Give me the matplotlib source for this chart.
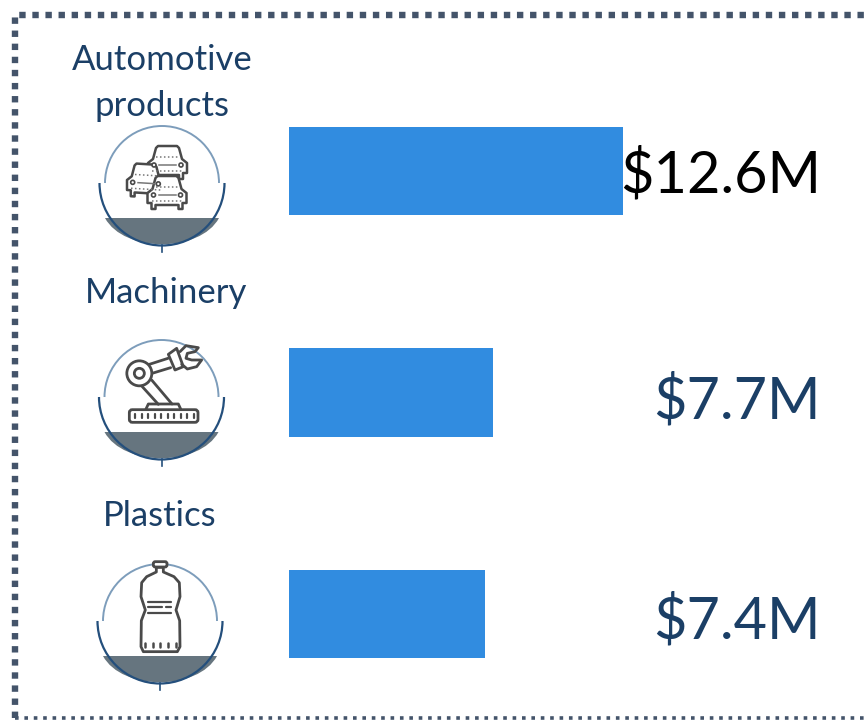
import numpy as np
import matplotlib
matplotlib.use("Agg")
import matplotlib.pyplot as plt
from matplotlib.patches import Arc, Circle, FancyBboxPatch, PathPatch, Polygon
from matplotlib.path import Path

plt.rcParams["font.family"] = ["Lato", "DejaVu Sans"]

categories = ["Automotive\nproducts", "Machinery", "Plastics"]
values = [12.6, 7.7, 7.4]
value_labels = ["$12.6M", "$7.7M", "$7.4M"]

BAR = "#318ce0"
NAVY = "#1b3f66"
BORDER = "#44546a"
ICON = "#4a4a4a"
W, H = 866, 721

fig = plt.figure(figsize=(W / 100, H / 100), dpi=100)

# pixel canvas for the frame, icons and text
bg = fig.add_axes([0, 0, 1, 1])
bg.set_xlim(0, W)
bg.set_ylim(H, 0)
bg.axis("off")

# bars get their own axes: 26.5 px per $M, 221.5 px between rows
bar_ax = fig.add_axes([289 / W, 1 - 658.3 / H, (W - 289) / W, 531.6 / H])
bar_ax.set_xlim(0, (W - 289) / 26.5)
bar_ax.set_ylim(2.2, -0.2)
bar_ax.axis("off")
bar_ax.barh(range(len(values)), values, height=0.4, color=BAR)


def icon_line(pts, ox, oy, lw=2.0, closed=False, fc="none"):
    # points are read in 3x zoom coordinates
    pts = np.array(pts, dtype=float) / 3 + [ox, oy]
    if closed:
        bg.add_patch(Polygon(pts, closed=True, fc=fc, ec=ICON, lw=lw, joinstyle="round", zorder=4))
    else:
        bg.plot(pts[:, 0], pts[:, 1], color=ICON, lw=lw, solid_capstyle="round",
                solid_joinstyle="round", zorder=4)


def badge(cx, cy):
    bg.add_patch(Arc((cx, cy), 114, 114, theta1=180, theta2=360, color="#7d9dbb", lw=1.4, zorder=2))
    # grey segment under the icon
    seg = Path([(cx - 57, cy + 35), (cx - 38, cy + 70), (cx + 38, cy + 70), (cx + 57, cy + 35), (cx - 57, cy + 35)],
               [Path.MOVETO, Path.CURVE4, Path.CURVE4, Path.CURVE4, Path.CLOSEPOLY])
    bg.add_patch(PathPatch(seg, fc="#66757f", ec="none", zorder=2))
    bg.add_patch(Arc((cx, cy), 125, 125, theta1=0, theta2=180, color="#244f7c", lw=1.6, zorder=3))
    bg.plot([cx, cx], [cy + 62, cy + 69], color="#244f7c", lw=1.2, zorder=3)


def car(x, y, w=39.0, h=33.0, shear=0.0):
    body = np.array([(0, 27), (0, 17), (5, 13), (8, 2), (10, 0), (29, 0), (31, 2), (34, 13), (39, 17),
                     (39, 27), (35, 27), (35, 33), (31, 33), (31, 29), (8, 29), (8, 33), (4, 33), (4, 27)], float)
    body = body * [w / 39, h / 33] + [x, y]
    body[:, 1] += (body[:, 0] - x) * shear
    bg.add_patch(Polygon(body, closed=True, fc="white", ec=ICON, lw=1.8, joinstyle="round", zorder=4))
    for cxx in (6, 33):
        bg.add_patch(Circle((x + cxx * w / 39, y + 19 * h / 33 + cxx * w / 39 * shear), 2.0,
                            fc="white", ec=ICON, lw=1.2, zorder=5))
    for yy, ls, x0, x1 in [(11, (0, (1, 1.6)), 8, 31), (19, "-", 11, 28), (25, (0, (1, 1.6)), 4, 35)]:
        bg.plot([x + x0, x + x1], [y + yy + x0 * shear, y + yy + x1 * shear], color="#777777", lw=1.1, ls=ls, zorder=5)


# frame
bg.plot([15, 15, W + 5], [718, 15, 15], color=BORDER, lw=4.6,
        ls=(0, (1.0, 1.05)), solid_capstyle="butt", dash_capstyle="butt")
bg.plot([15, W + 5], [718, 718], color=BORDER, lw=2.6, ls=(0, (1.0, 1.6)), dash_capstyle="butt")

badge(162, 183)
badge(161.5, 397)
badge(160, 621)

# cars
car(148, 146)
car(127, 163, w=37, h=33, shear=0.06)
car(147.5, 176)

# robot arm
ox, oy = 80, 325
bg.add_patch(FancyBboxPatch((80 + 148 / 3, oy + 254 / 3), 206 / 3, 38 / 3, boxstyle="round,pad=0,rounding_size=3",
                            fc="white", ec=ICON, lw=2.0, zorder=4))
icon_line([(198, 252), (205, 237), (295, 237), (302, 252)], ox, oy)
for xd in np.arange(165, 345, 19.5):
    icon_line([(xd, 268), (xd, 279)], ox, oy, lw=1.6)
icon_line([(186, 184), (235, 238)], ox, oy)
icon_line([(215, 165), (276, 237)], ox, oy)
icon_line([(208, 118), (264, 100)], ox, oy)
icon_line([(213, 146), (272, 128)], ox, oy)
bg.add_patch(Circle((ox + 178 / 3, oy + 145 / 3), 12.5, fc="white", ec=ICON, lw=2.0, zorder=4))
bg.add_patch(Circle((ox + 178 / 3, oy + 145 / 3), 5, fc="white", ec=ICON, lw=2.0, zorder=4))
icon_line([(265, 88), (290, 70), (310, 125), (285, 135)], ox, oy, closed=True, fc="white")
icon_line([(300, 80), (318, 62), (355, 68), (345, 80), (322, 85), (318, 100), (335, 105), (365, 105),
           (350, 125), (322, 132), (305, 118)], ox, oy)

# bottle
ox, oy = 80, 550
bg.add_patch(FancyBboxPatch((ox + 220 / 3, oy + 35 / 3), 41 / 3, 16 / 3, boxstyle="round,pad=0,rounding_size=2",
                            fc="white", ec=ICON, lw=2.0, zorder=5))
icon_line([(229, 52), (229, 66), (200, 80), (185, 98), (183, 140), (196, 180), (184, 212), (183, 290), (190, 305),
           (292, 305), (300, 290), (299, 212), (288, 180), (300, 140), (298, 98), (282, 80), (250, 66), (250, 52)],
          ox, oy, closed=True, fc="white")
for pts in [[(205, 155), (272, 155)], [(205, 172), (245, 172)], [(258, 172), (272, 172)], [(205, 190), (272, 190)]]:
    icon_line(pts, ox, oy, lw=1.6)
for xd in [195, 218, 240, 263, 287]:
    icon_line([(xd, 279), (xd, 290)], ox, oy, lw=1.8)

# text
label_pos = [(162, 83), (166, 293), (160, 516)]
for name, (x, y) in zip(categories, label_pos):
    bg.text(x, y, name, color=NAVY, fontsize=25, ha="center", va="center", linespacing=1.5, zorder=6)

value_y = [175, 401, 621]
value_colors = ["black", NAVY, NAVY]
for lab, y, c in zip(value_labels, value_y, value_colors):
    bg.text(821, y, lab, color=c, fontsize=41.5, ha="right", va="center", zorder=6)

fig.savefig("out.png", dpi=100)
